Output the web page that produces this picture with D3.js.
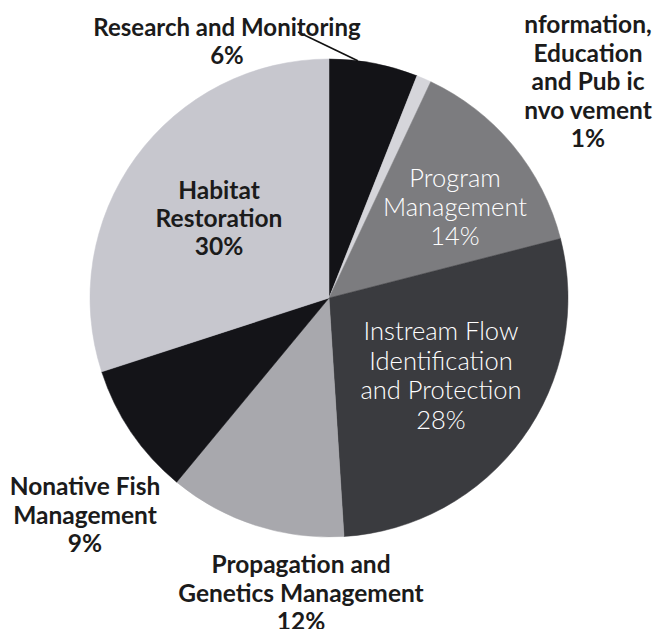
<!DOCTYPE html>
<html><head><meta charset="utf-8">
<script src="https://cdn.jsdelivr.net/npm/d3@7"></script>
<style>
html,body{margin:0;padding:0;background:#fff;}
svg{display:block;}
</style></head>
<body>
<svg id="chart" width="656" height="629"></svg>
<script>
// ---- data ----
const categories = [
  "Research and Monitoring",
  "Information, Education and Public Involvement",
  "Program Management",
  "Instream Flow Identification and Protection",
  "Propagation and Genetics Management",
  "Nonative Fish Management",
  "Habitat Restoration"
];
const values = [6, 1, 14, 28, 12, 9, 30];
const labelLines = [
  ["Research and Monitoring", "6%"],
  ["nformation,", "Education", "and Pub ic", "nvo vement", "1%"],
  ["Program", "Management", "14%"],
  ["Instream Flow", "Identification", "and Protection", "28%"],
  ["Propagation and", "Genetics Management", "12%"],
  ["Nonative Fish", "Management", "9%"],
  ["Habitat", "Restoration", "30%"]
];

// ---- styles / layout ----
const sliceColors = ["#131317", "#d5d5da", "#7c7c7f", "#3a3b3f", "#a8a8ad", "#141418", "#c7c7ce"];
const labelStyle = [
  {x:227, y:36,  lh:27.5,fill:"#1b1b1b", weight:700, size:24},
  {x:588, y:33,  lh:28.5,fill:"#1b1b1b", weight:700, size:24.5},
  {x:455, y:187, lh:29,  fill:"#ffffff", weight:300, size:25.5},
  {x:441, y:340, lh:29.5,fill:"#ffffff", weight:300, size:25.5},
  {x:301, y:573, lh:28.5,fill:"#1b1b1b", weight:700, size:24.5},
  {x:85,  y:495, lh:28.5,fill:"#1b1b1b", weight:700, size:24.5},
  {x:219, y:199, lh:28,  fill:"#1b1b1b", weight:700, size:24.5}
];
const cx = 329, cy = 298, R = 239;

const svg = d3.select("#chart");
const g = svg.append("g").attr("transform", `translate(${cx},${cy})`);

const pie = d3.pie().sort(null).value(d => d)(values);
const arc = d3.arc().innerRadius(0).outerRadius(R);

g.selectAll("path.slice").data(pie).join("path")
  .attr("class","slice")
  .attr("d", arc)
  .attr("fill", (d,i) => sliceColors[i])
  .attr("stroke", (d,i) => sliceColors[i])
  .attr("stroke-width", 0.5);

// leader line for Research and Monitoring
const rs = pie[0];
const la = rs.startAngle + 0.32*(rs.endAngle - rs.startAngle);
const ex = cx + R*Math.sin(la), ey = cy - R*Math.cos(la);
svg.append("line")
  .attr("x1", 298).attr("y1", 32)
  .attr("x2", ex).attr("y2", ey)
  .attr("stroke", "#111").attr("stroke-width", 1.6);

// labels
labelLines.forEach((lines, i) => {
  const s = labelStyle[i];
  const t = svg.append("text")
    .attr("text-anchor","middle")
    .attr("font-family","Lato, 'Open Sans', sans-serif")
    .attr("font-size", s.size)
    .attr("font-weight", s.weight)
    .attr("fill", s.fill);
  lines.forEach((ln, j) => {
    t.append("tspan").attr("x", s.x).attr("y", s.y + j*s.lh).text(ln);
  });
});
</script>
</body></html>
